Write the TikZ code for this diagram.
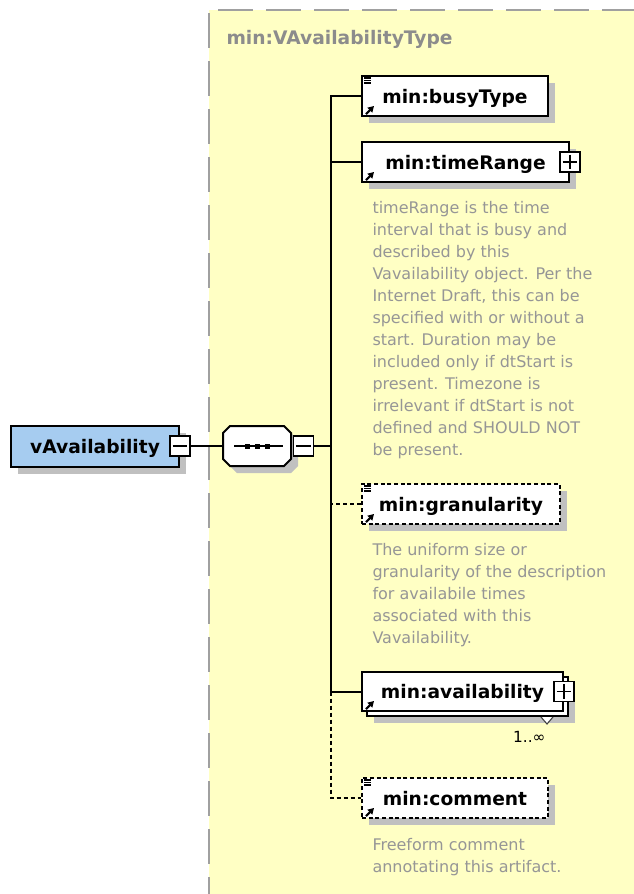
\documentclass[tikz,border=0pt]{standalone}
\usepackage{fontspec}
\setmainfont{DejaVu Sans}
\usetikzlibrary{shadows,arrows.meta,calc}

\definecolor{typeyellow}{RGB}{255,255,196}
\definecolor{rootblue}{RGB}{166,204,240}
\definecolor{shadowgray}{RGB}{192,192,192}
\definecolor{framegray}{RGB}{160,160,160}
\definecolor{titlegray}{RGB}{140,140,140}
\definecolor{notegray}{RGB}{150,150,150}

\newcommand{\elemfont}{\fontsize{14}{16}\selectfont\bfseries}
\newcommand{\descfont}{\fontsize{12}{16.5}\selectfont}

% reference arrow and simple-type lines in the corner of a box
\newcommand{\refmark}[1]{%
  \draw[line width=1.6pt,-{Triangle[length=4.5pt,width=5pt]}] ([shift={(5,-3)}]#1.south west) -- ++(8,-8);}
\newcommand{\simplemark}[1]{%
  \foreach \dy in {3,5.5,8}
    \draw[line width=0.9pt] ([shift={(3,\dy)}]#1.north west) -- ++(7,0);}

\tikzset{every picture/.style={line width=0.75pt}}
\tikzset{
  boxshadow/.style={drop shadow={shadow xshift=5.25pt,shadow yshift=-5.25pt,opacity=1,fill=shadowgray,draw=none}},
  elembase/.style={draw,line width=1.5pt,fill=white,anchor=west,minimum height=30pt,minimum width=#1,
    text height=11pt,text depth=0pt,inner sep=0pt,font=\elemfont},
  elem/.style={elembase=#1,boxshadow},
  optelem/.style={elem=#1,dash pattern=on 3pt off 2pt},
  rootbox/.style={elem=126pt,fill=rootblue,minimum height=30.75pt},
  minusbox/.style={draw,line width=1.2pt,fill=white,minimum size=15pt,inner sep=0pt,
    path picture={\draw[line width=1.2pt] ($(path picture bounding box.west)!2pt!(path picture bounding box.east)$)
      -- ($(path picture bounding box.east)!2pt!(path picture bounding box.west)$);}},
  plusbox/.style={draw,line width=1.2pt,fill=white,minimum size=15pt,inner sep=0pt,
    path picture={\draw[line width=1.2pt] ($(path picture bounding box.west)!2pt!(path picture bounding box.east)$)
      -- ($(path picture bounding box.east)!2pt!(path picture bounding box.west)$)
      ($(path picture bounding box.north)!2pt!(path picture bounding box.south)$)
      -- ($(path picture bounding box.south)!2pt!(path picture bounding box.north)$);}},
  desc/.style={anchor=north west,inner sep=0pt,align=left,text=notegray,font=\descfont},
  link/.style={line width=1.5pt},
  optlink/.style={link,dash pattern=on 3pt off 2.25pt}
}

\begin{document}
\begin{tikzpicture}[x=0.75pt,y=0.75pt,yscale=-1,xscale=1]
	\path[use as bounding box] (0,0) rectangle (634,894);

	%Shape: Type area
	\fill[typeyellow] (209,10) rectangle (640,900);
	\draw[framegray,line width=1.9pt,dash pattern=on 26.25pt off 9.75pt] (209,13) -- (209,900);
	\draw[framegray,line width=1.9pt,dash pattern=on 26.25pt off 9.75pt] (218,10) -- (640,10);
	% Text Node
	\node[anchor=base west,inner sep=0pt,text=titlegray,font=\elemfont] (typeTitle) at (226,44) {min:VAvailabilityType};

	%Shape: Root element
	\node[rootbox] (vAvail) at (10,446) {vAvailability};
	\node[minusbox] (vAvailMinus) at (vAvail.east) {};

	%Shape: Sequence
	\draw[line width=1.5pt,fill=white,boxshadow] (230,426) -- (284,426) -- (291,433) -- (291,459) -- (284,466) -- (230,466) -- (223,459) -- (223,433) -- cycle;
	\node[minimum width=51pt,minimum height=30pt,inner sep=0pt] (seq) at (257,446) {};
	\draw[link] ([xshift=-17.25pt]seq.center) -- ([xshift=19.5pt]seq.center);
	\foreach \dx in {-10,0,10}
		\fill ([shift={(\dx-2.5,-2.5)}]seq.center) rectangle ++(5,5);
	\node[minusbox,anchor=west] (seqMinus) at ([xshift=0.75pt]seq.east) {};
	\coordinate (trunk) at (331,446);

	%Shape: Child elements
	\node[elem=139.5pt] (busyType) at (361,96) {min:busyType};
	\node[elem=155.25pt] (timeRange) at (361,162) {min:timeRange};
	\node[plusbox] (timeRangePlus) at (timeRange.east) {};
	\node[optelem=148.5pt] (granularity) at (361,504) {min:granularity};
	\node[elem=150.75pt,minimum height=29.25pt] (availBack) at (366,696.5) {};
	\node[elembase=150.75pt,minimum height=29.25pt] (availability) at (361,691.5) {min:availability};
	\node[plusbox] (availPlus) at (availability.east) {};
	\draw[fill=white,draw=darkgray,line width=0.8pt] ([xshift=-21pt]availBack.south east) -- ++(6,7) -- ++(6,-7);
	\node[anchor=east,inner sep=0pt,font=\fontsize{11.5}{13}\selectfont] (availCard) at (546,737) {1..∞};
	\node[optelem=139.5pt] (comment) at (361,798) {min:comment};

	\refmark{busyType}
	\refmark{timeRange}
	\refmark{granularity}
	\refmark{availability}
	\refmark{comment}
	\simplemark{busyType}
	\simplemark{granularity}
	\simplemark{comment}

	% Text Node
	\node[desc] (timeRangeNote) at (372,201) {timeRange is the time\\interval that is busy and\\described by this\\Vavailability object. Per the\\Internet Draft, this can be\\specified with or without a\\start. Duration may be\\included only if dtStart is\\present. Timezone is\\irrelevant if dtStart is not\\defined and SHOULD NOT\\be present.};
	% Text Node
	\node[desc] (granularityNote) at (372,543) {The uniform size or\\granularity of the description\\for availabile times\\associated with this\\Vavailability.};
	% Text Node
	\node[desc] (commentNote) at (372,838) {Freeform comment\\annotating this artifact.};

	%Connectors
	\draw[link] (vAvailMinus.east) -- (seq.west);
	\draw[link] (seqMinus.east) -- (trunk);
	\draw[optlink] (trunk) |- (granularity.west);
	\draw[optlink] (availability.west -| trunk) |- (comment.west);
	\draw[link] (trunk) |- (busyType.west);
	\draw[link] (trunk) |- (timeRange.west);
	\draw[link] (trunk) |- (availability.west);

\end{tikzpicture}
\end{document}
